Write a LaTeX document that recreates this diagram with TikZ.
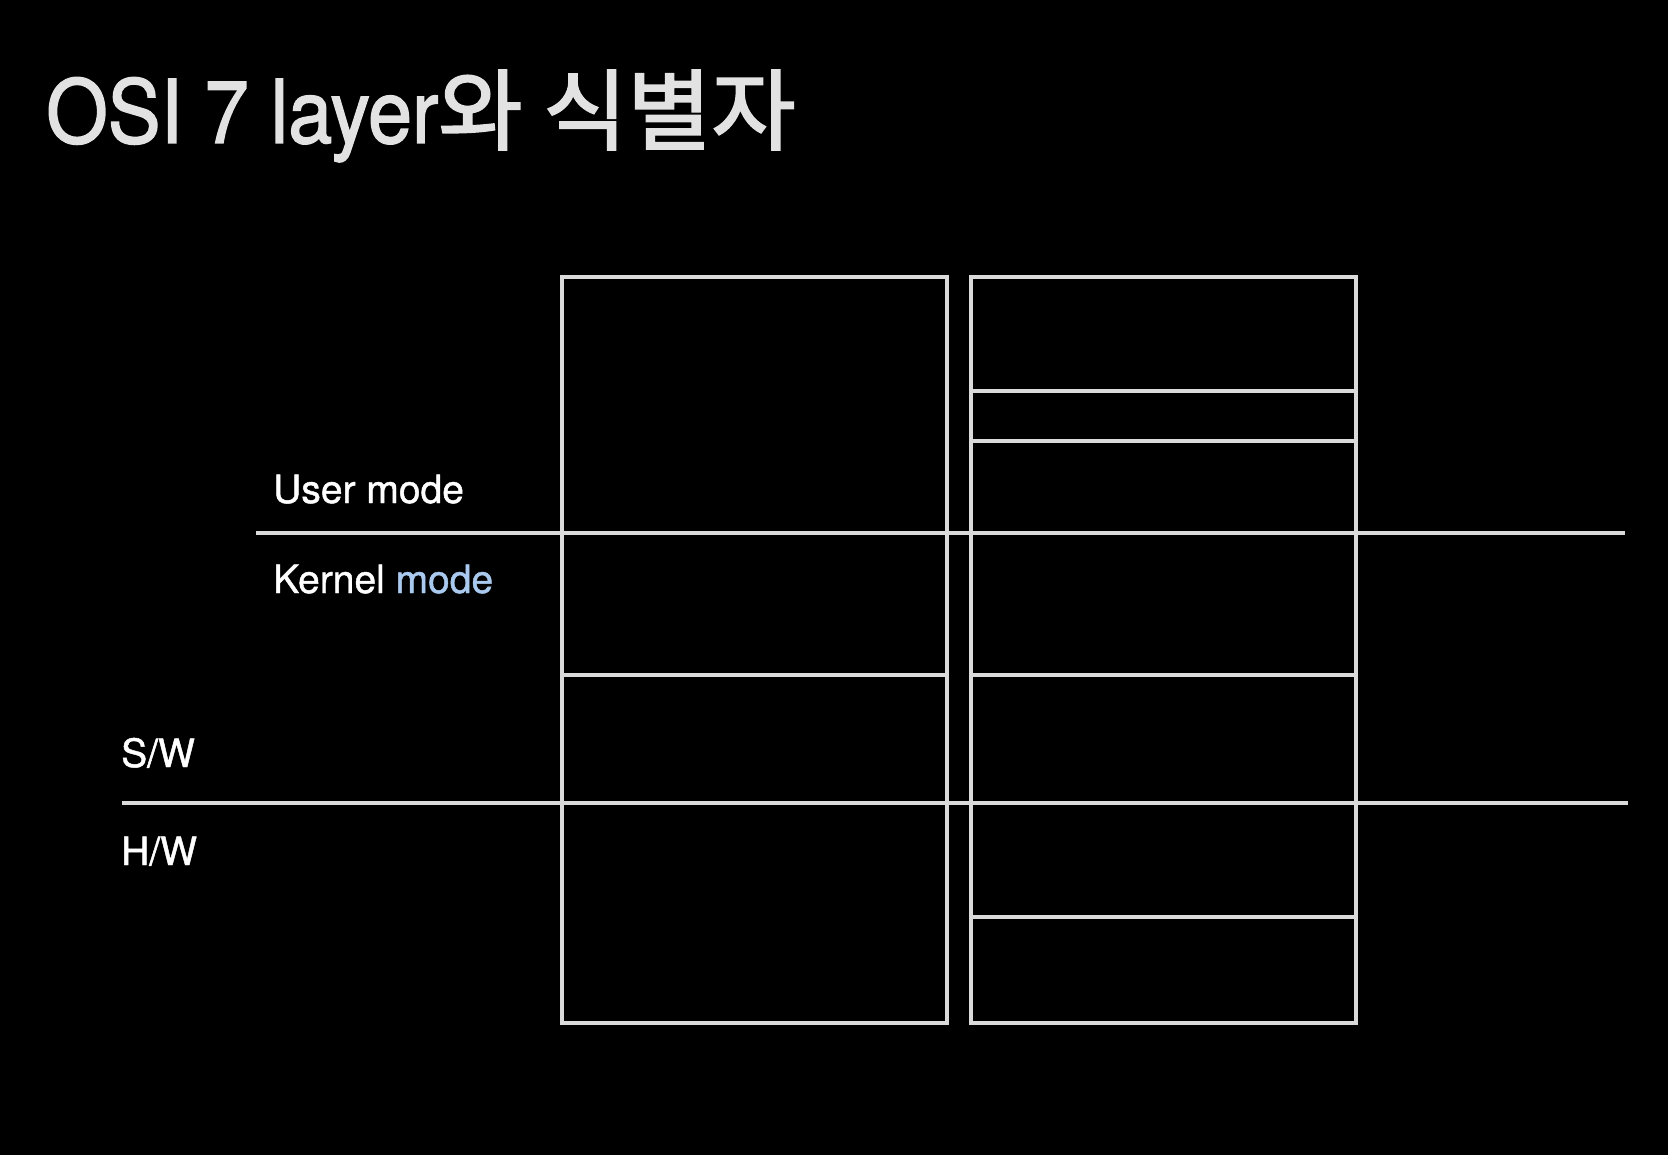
\documentclass[tikz,border=0pt]{standalone}
\usepackage{fontspec}
\setmainfont{TeX Gyre Heros}
\newfontfamily\latinfont[FakeBold=1.2]{TeX Gyre Heros}
\newfontfamily\titlelatin[FakeBold=1.6,FakeStretch=0.9]{TeX Gyre Heros}
\newfontfamily\cjkfont[FakeBold=2.2,FakeStretch=1.04]{Noto Sans CJK KR}
\definecolor{linegray}{HTML}{DADADA}
\definecolor{titlegray}{HTML}{E2E2E2}
\definecolor{modeblue}{HTML}{A9C9EE}
\begin{document}
\begin{tikzpicture}[x=1pt,y=-1pt,
  frame/.style={draw=linegray,line width=3.4pt},
  divider/.style={draw=linegray,line width=3.4pt},
  lbl/.style={anchor=base west,inner sep=0pt,text=white,font=\latinfont\fontsize{39}{42}\selectfont},
  ttl/.style={anchor=base west,inner sep=0pt,text=titlegray,font=\fontsize{88}{92}\selectfont}]
\fill[black] (0,0) rectangle (1668,1155);
\useasboundingbox (0,0) rectangle (1668,1155);
% title
\node[ttl] (title) at (46,143) {{\titlelatin OSI 7 layer}{\cjkfont 와 식별자}};
% boxes
\draw[frame] (562,277) rectangle (947,1023);
\draw[frame] (971,277) rectangle (1356,1023);
% left box divider
\draw[divider] (562,675) -- (947,675);
% right box dividers
\draw[divider] (971,391) -- (1356,391);
\draw[divider] (971,441) -- (1356,441);
\draw[divider] (971,675) -- (1356,675);
\draw[divider] (971,917) -- (1356,917);
% long lines
\coordinate (umL) at (256,533);
\coordinate (umR) at (1625,533);
\coordinate (swL) at (122,803);
\coordinate (swR) at (1628,803);
\draw[divider] (umL) -- (umR);
\draw[divider] (swL) -- (swR);
% labels
\node[lbl] (user) at (273,503) {User mode};
\node[lbl] (kernel) at (273,593) {Kernel \textcolor{modeblue}{mode}};
\node[lbl] (sw) at (121,767) {S/W};
\node[lbl] (hw) at (121,865) {H/W};
\end{tikzpicture}
\end{document}
